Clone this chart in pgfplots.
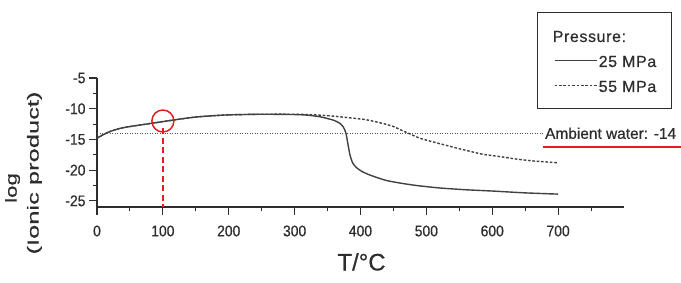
\documentclass[border=0pt]{standalone}
\usepackage{fontspec}
\setmainfont[FakeBold=0.6]{Liberation Sans}
\newfontfamily\tickfont[FakeStretch=0.9,FakeBold=0.6]{Liberation Sans}
\newfontfamily\legfont[LetterSpace=4,FakeBold=0.6]{Liberation Sans}
\usepackage{graphicx}
\usepackage{pgfplots}
\pgfplotsset{compat=1.18}
\definecolor{ink}{RGB}{45,45,45}
\definecolor{curve}{RGB}{65,65,65}
\definecolor{hired}{RGB}{225,30,35}

\begin{document}
\begin{tikzpicture}
\path[use as bounding box] (0,0) rectangle (681bp,-283bp);
\begin{axis}[
  at={(97bp,-207bp)}, anchor=south west,
  scale only axis, width=527bp, height=129bp,
  xmin=0, xmax=800, ymin=-26, ymax=-5,
  axis lines=left, axis line style={-, ink, line width=1.3bp},
  clip=false,
  xtick={0,100,...,700}, minor xtick={50,150,...,750},
  ytick={-25,-20,...,-5}, minor ytick={-22.5,-17.5,...,-7.5},
  tick align=outside, major tick length=8bp, minor tick length=4bp,
  tick style={ink, line width=1.1bp},
  tick label style={font=\tickfont\fontsize{15.5}{17}\selectfont, text=ink},
  xticklabel style={yshift=-7bp},
  /pgf/number format/assume math mode=true,
  xlabel={T/°C},
  xlabel style={font=\fontsize{24}{28}\selectfont, text=ink, at={(axis description cs:0.502,-0.426)}, anchor=center},
  ylabel={\scalebox{1.4}[1]{log}\hspace*{30bp}\\\scalebox{1.6}[1]{(Ionic product)}},
  ylabel style={font=\fontsize{16}{22}\selectfont, text=ink, align=center, at={(axis description cs:-0.1395,0.2636)}, anchor=center},
  legend style={at={(0.835,1.512)}, anchor=north west, draw=ink, line width=1bp, fill=none,
    inner xsep=14bp, inner ysep=12bp, row sep=2.5bp, font=\legfont\fontsize{16}{19}\selectfont, text=ink,
    nodes={inner sep=1.5bp, text height=16bp, text depth=3.5bp}},
  legend cell align=left,
  legend image code/.code={\draw[#1] (3bp,0bp) -- (45bp,0bp);},
]
\addlegendimage{empty legend}
\addlegendentry{\hspace*{-46bp}Pressure:}

\addplot[curve, line width=1.4bp, smooth, tension=0.4] coordinates {
(0,-14.8) (10,-14.2) (20,-13.7) (35,-13.2) (50,-12.9) (75,-12.5) (100,-12.1)
(125,-11.7) (150,-11.35) (175,-11.15) (200,-11.0) (250,-10.9) (300,-10.95)
(320,-11.05) (338,-11.3) (350,-11.6) (360,-11.9) (369,-12.4) (374,-13.0)
(378,-14.0) (381,-15.8) (384,-17.5) (388,-18.8) (394,-19.6) (402,-20.2)
(412,-20.7) (425,-21.2) (440,-21.7) (460,-22.1) (485,-22.5) (520,-22.9)
(561,-23.2) (600,-23.4) (650,-23.7) (700,-23.9)
};
\addlegendentry{25 MPa}

\addplot[curve, line width=1.4bp, dash pattern=on 2.6bp off 1.8bp, smooth, tension=0.4] coordinates {
(0,-14.8) (10,-14.2) (20,-13.7) (35,-13.2) (50,-12.9) (75,-12.5) (100,-12.1)
(125,-11.7) (150,-11.35) (175,-11.15) (200,-11.0) (250,-10.9) (300,-10.9)
(330,-11.0) (358,-11.2) (385,-11.5) (409,-11.8) (434,-12.4) (450,-12.9)
(460,-13.4) (475,-14.1) (490,-14.8) (510,-15.4) (535,-16.1) (561,-16.8)
(585,-17.4) (612,-17.8) (637,-18.2) (662,-18.5) (700,-18.8)
};
\addlegendentry{55 MPa}

% ambient water level
\addplot[forget plot, ink!80, line width=0.8bp, dash pattern=on 1bp off 1.5bp] coordinates {(0,-14) (677,-14)};
\node[anchor=west, inner sep=0pt, font=\fontsize{15.5}{19}\selectfont, text=ink] at (axis cs:680,-14) {Ambient water: -14};
\addplot[forget plot, hired, line width=1.2bp] coordinates {(677,-16.23) (890,-16.23)};

% red highlight at 100 C
\addplot[forget plot, only marks, mark=o, mark size=11bp, mark options={draw=hired, line width=1.5bp}] coordinates {(100,-12.0)};
\addplot[forget plot, hired, line width=1.8bp, dash pattern=on 6bp off 3.5bp] coordinates {(100,-13.2) (100,-26)};
\end{axis}
\end{tikzpicture}
\end{document}
